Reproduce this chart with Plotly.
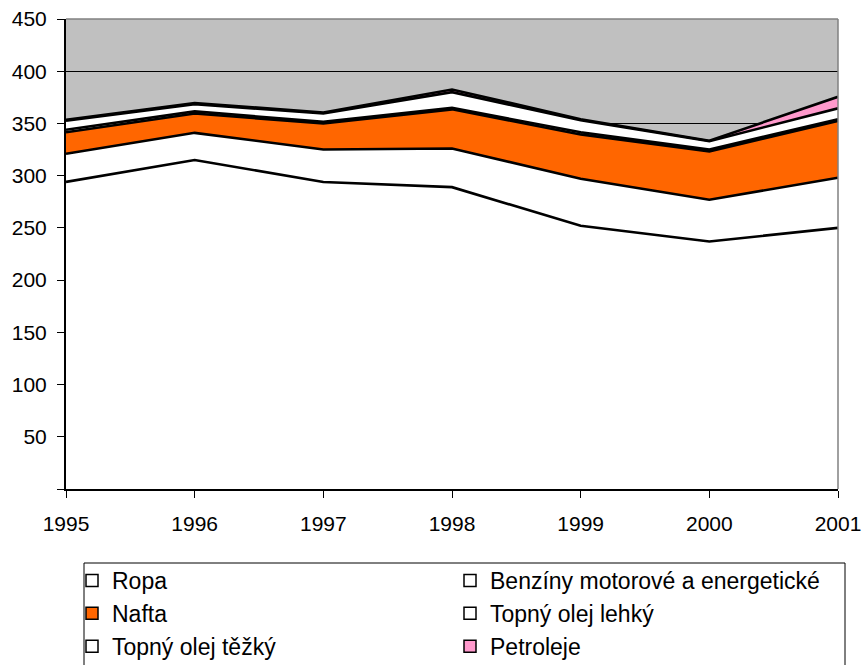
import plotly.graph_objects as go

years = [1995, 1996, 1997, 1998, 1999, 2000, 2001]
series_names = ["Ropa", "Benzíny motorové a energetické", "Nafta",
                "Topný olej lehký", "Topný olej těžký", "Petroleje"]
ropa = [294, 315, 294, 289, 252, 237, 250]
benziny = [27, 26, 31, 37, 45, 40, 48]
nafta = [20.5, 18.5, 25, 37.5, 42.5, 46.3, 54.5]
olej_lehky = [2.5, 2, 1.5, 1.5, 2, 1.7, 1.5]
olej_tezky = [8.5, 7, 8, 15, 11.5, 8, 10.5]
petroleje = [1, 1, 1, 2.5, 1, 0.5, 11]
series_values = [ropa, benziny, nafta, olej_lehky, olej_tezky, petroleje]
colors = ["#FFFFFF", "#FFFFFF", "#FF6600", "#FFFFFF", "#FFFFFF", "#FF99CC"]
y_ticks = [0, 50, 100, 150, 200, 250, 300, 350, 400, 450]
y_ticklabels = ["" if v == 0 else str(v) for v in y_ticks]

FONT = "Arial, 'Liberation Sans', sans-serif"

fig = go.Figure()
for name, vals, col in zip(series_names, series_values, colors):
    fig.add_trace(go.Scatter(
        x=years, y=vals, name=name, stackgroup="one", mode="lines",
        line=dict(color="#000000", width=2.6), fillcolor=col,
        showlegend=False, hoverinfo="skip"))
# legend entries (square symbols)
for name, col in zip(series_names, colors):
    fig.add_trace(go.Bar(
        x=[None], y=[None], name=name,
        marker=dict(color=col, line=dict(color="#000000", width=1.5)),
        showlegend=True))

fig.update_layout(
    width=865, height=665,
    margin=dict(l=66, r=27, t=19, b=176, autoexpand=False),
    paper_bgcolor="#FFFFFF", plot_bgcolor="#C0C0C0",
    font=dict(family=FONT, size=21, color="#000000"),
    showlegend=True,
    legend=dict(
        orientation="h", x=(72 - 66) / 772, xanchor="left",
        y=-(559 - 489) / 470, yanchor="top",
        entrywidth=333, entrywidthmode="pixels",
        borderwidth=0, bgcolor="rgba(0,0,0,0)",
        font=dict(family=FONT, size=23, color="#000000"),
        traceorder="normal", itemclick=False, itemdoubleclick=False),
    xaxis=dict(
        range=[1995, 2001], tickvals=years, ticktext=[str(y) for y in years],
        showgrid=False, zeroline=False, showline=True, linecolor="#000000",
        linewidth=2, ticks="outside", ticklen=7, tickcolor="#000000",
        tickwidth=1, tickfont=dict(size=21), ticklabelstandoff=8,
        automargin=False),
    yaxis=dict(
        range=[0, 450], tickvals=y_ticks, ticktext=y_ticklabels,
        showgrid=True, gridcolor="#000000", gridwidth=1, zeroline=False,
        showline=True, linecolor="#000000", linewidth=2,
        ticks="outside", ticklen=7, tickcolor="#000000", tickwidth=1,
        tickfont=dict(size=21), ticklabelstandoff=6, automargin=False),
)
# plot area border (top and right)
fig.add_shape(type="line", xref="paper", yref="paper", x0=0, x1=1, y0=1, y1=1,
              line=dict(color="#808080", width=1.5), layer="above")
fig.add_shape(type="line", xref="paper", yref="paper", x0=1, x1=1, y0=0, y1=1,
              line=dict(color="#808080", width=1.5), layer="above")
# legend frame
fig.add_shape(type="rect", xref="paper", yref="paper",
              x0=(84 - 66) / 772, x1=(845 - 66) / 772,
              y0=-(680 - 489) / 470, y1=-(563 - 489) / 470,
              line=dict(color="#000000", width=1), fillcolor="rgba(0,0,0,0)",
              layer="below")

fig.write_html(
    "out.html",
    config={"displayModeBar": False},
    post_script="document.body.style.margin='0';document.body.style.overflow='hidden';")
